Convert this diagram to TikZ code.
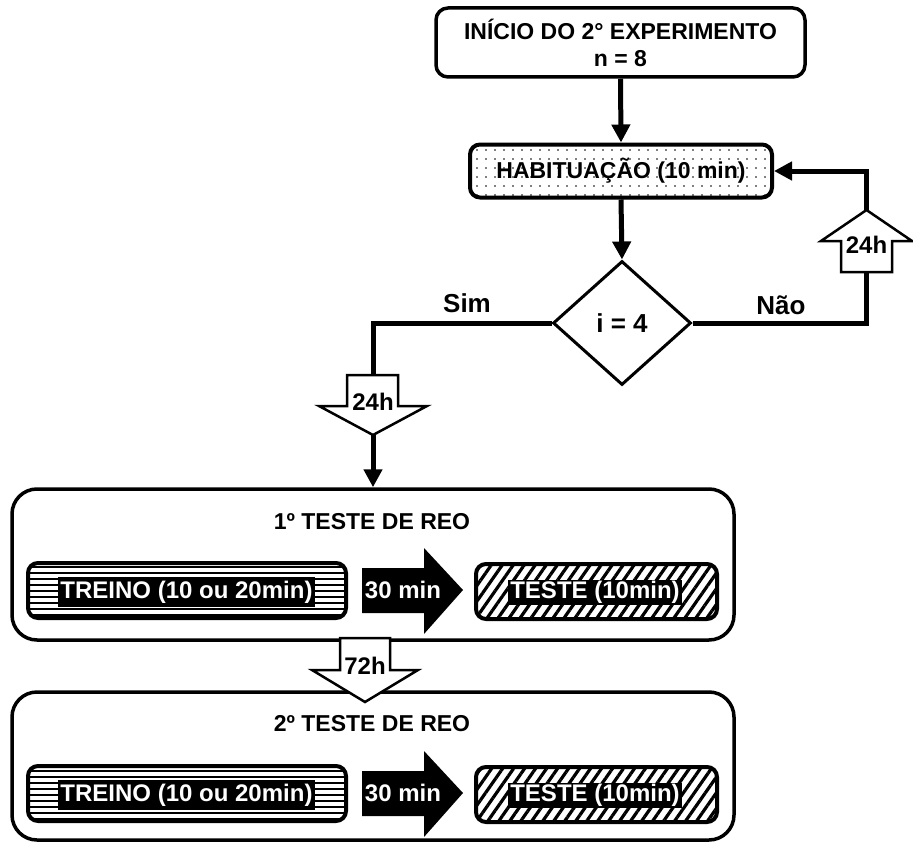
\documentclass[tikz,border=0pt]{standalone}
\usepackage{fontspec}
\setmainfont{Liberation Sans}
\usetikzlibrary{arrows.meta,shapes.geometric,patterns.meta}
\begin{document}
\begin{tikzpicture}[x=1pt,y=-1pt,
  txt/.style={font=\fontsize{23}{27}\selectfont\bfseries},
  big/.style={font=\fontsize{26}{30}\selectfont\bfseries},
  flow/.style={line width=5pt,-{Triangle[length=18pt,width=18pt]}},
  conn/.style={line width=5pt},
  rbox/.style={draw,line width=3.5pt,rounded corners=12pt,inner sep=0pt,txt},
  bigbox/.style={draw,line width=3.5pt,rounded corners=25pt,inner sep=0pt},
  ibox/.style={draw,line width=4pt,rounded corners=10pt,inner sep=0pt},
  trfill/.style={pattern={Lines[angle=0,distance=6pt,line width=1.3pt]}},
  tefill/.style={pattern={Lines[angle=55,distance=9pt,line width=3.2pt]}},
  blab/.style={fill=black,text=white,font=\fontsize{24}{28}\selectfont\bfseries,inner xsep=2pt},
  barrow/.style={draw,line width=2.5pt,fill=white,line join=miter},
  hlab/.style={font=\fontsize{24}{28}\selectfont\bfseries,inner sep=0pt}
]
\useasboundingbox (0,0) rectangle (913,843);

% top
\node[rbox,minimum width=369pt,minimum height=69pt,align=center] (start) at (620.5,42.5) {INÍCIO DO 2° EXPERIMENTO\\n = 8};
\node[rbox,line width=4pt,rounded corners=10pt,pattern={Dots[distance=9pt,radius=0.8pt]},minimum width=302pt,minimum height=53pt,font=\fontsize{23}{27}\selectfont\bfseries] (hab) at (621,171) {HABITUAÇÃO (10 min)};
\node[draw,diamond,line width=3pt,minimum width=138pt,minimum height=124pt,inner sep=0pt,big] (dia) at (622,323) {i = 4};

\draw[flow] (start.south) -- (hab.north);
\draw[flow] (hab.south) -- (dia.north);

% Sim branch
\coordinate (simtop) at (373,375);
\coordinate (simtip) at (373,435);
\draw[conn] (dia.west) -| (simtop);
\draw[barrow] (347,375) -- (398,375) -- (398,406) -- (427,406) -- (simtip) -- (319,406) -- (347,406) -- cycle;
\node[hlab] (simh) at (373,402) {24h};
\node[big] (simlbl) at (467,303) {Sim};

% Nao branch
\coordinate (naobot) at (866.5,272);
\coordinate (naotip) at (866.5,210);
\draw[conn] (dia.east) -| (naobot);
\draw[barrow] (841,272) -- (892,272) -- (892,241) -- (912,241) -- (naotip) -- (821,241) -- (841,241) -- cycle;
\node[hlab] (naoh) at (866.5,245) {24h};
\draw[flow] (naotip) |- (hab.east);
\node[big] (naolbl) at (781,305) {Não};

% big boxes
\node[bigbox,minimum width=722pt,minimum height=151pt] (b1) at (373,564.5) {};
\node[bigbox,minimum width=722pt,minimum height=148pt] (b2) at (373,766) {};
\draw[flow] (simtip) -- (b1.north);

% box 1 content
\node[txt] (t1) at (372,522) {1º TESTE DE REO};
\node[ibox,trfill,minimum width=318pt,minimum height=55pt] (tr1) at (187,590.5) {};
\node[blab,inner ysep=3.5pt] (tr1l) at (186.5,592) {TREINO (10 ou 20min)};
\fill (362,568) -- (424,568) -- (424,548) -- (463,590) -- (424,634) -- (424,613) -- (362,613) -- cycle;
\node[hlab,text=white] (m1) at (403,590) {30 min};
\node[ibox,tefill,minimum width=241pt,minimum height=55pt] (te1) at (596.5,591.5) {};
\node[blab,inner ysep=1.5pt] (te1l) at (595,592.5) {TESTE (10min)};

% box 2 content
\node[txt] (t2) at (372,724) {2º TESTE DE REO};
\node[ibox,trfill,minimum width=318pt,minimum height=55pt] (tr2) at (187,793.5) {};
\node[blab,inner ysep=3.5pt] (tr2l) at (186.5,795) {TREINO (10 ou 20min)};
\fill (362,771) -- (424,771) -- (424,751) -- (463,793) -- (424,837) -- (424,816) -- (362,816) -- cycle;
\node[hlab,text=white] (m2) at (403,793) {30 min};
\node[ibox,tefill,minimum width=241pt,minimum height=55pt] (te2) at (596.5,794.5) {};
\node[blab,inner ysep=1.5pt] (te2l) at (595,795.5) {TESTE (10min)};

% 72h arrow
\draw[barrow] (340,638) -- (390,638) -- (390,670) -- (418,670) -- (365,702) -- (312,670) -- (340,670) -- cycle;
\node[hlab] (h72) at (365,666) {72h};
\end{tikzpicture}
\end{document}
